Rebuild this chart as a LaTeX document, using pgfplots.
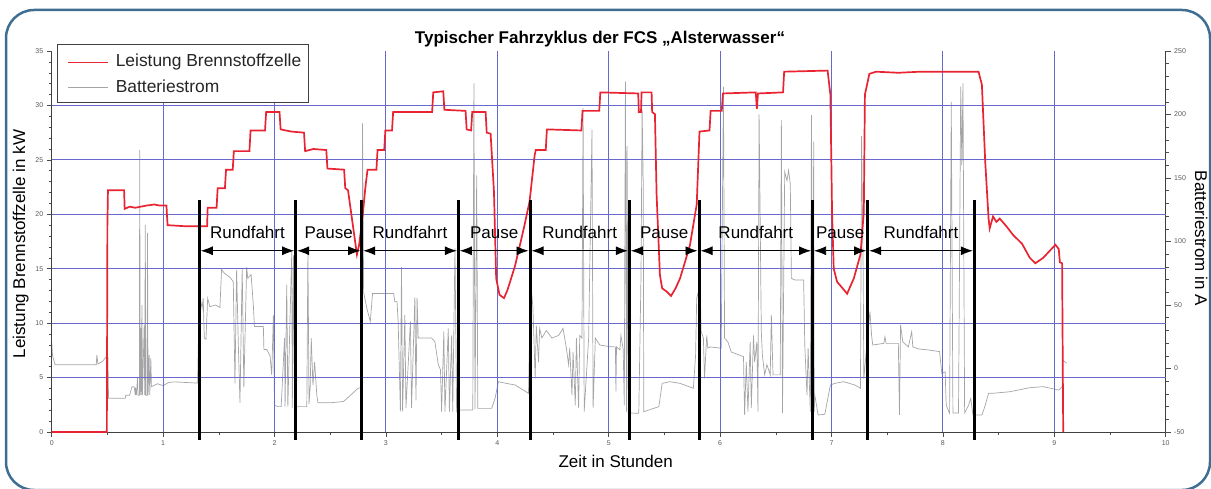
\documentclass[border=0pt]{standalone}
\usepackage{pgfplots}
\pgfplotsset{compat=1.18}
\usepackage{fontspec}
\setmainfont{Liberation Sans}
\usetikzlibrary{arrows.meta}

\definecolor{framec}{RGB}{62,110,145}
\definecolor{gridc}{RGB}{105,105,205}
\definecolor{redc}{RGB}{232,35,50}
\definecolor{grayc}{RGB}{165,165,168}
\definecolor{tickc}{RGB}{90,90,90}

\pgfplotsset{
  base/.style={
    at={(51.7pt,56pt)}, anchor=south west, scale only axis,
    width=1114pt, height=381pt, xmin=0, xmax=10,
    tick align=outside, major tick length=5pt, minor tick length=3pt,
    tick style={color=black!70, line width=0.5pt},
    axis line style={color=black!75, line width=0.6pt},
    ticklabel style={font=\fontsize{7}{8}\selectfont, color=tickc},
    /pgf/number format/assume math mode=true,
  }
}

\begin{document}
\begin{tikzpicture}[x=1pt,y=1pt]
\draw[line width=2.5pt, color=framec, rounded corners=28pt] (6,-2) rectangle (1210,478);

% right axis: battery current
\begin{axis}[base, ymin=-50, ymax=250, axis x line=none, axis y line*=right,
  ytick={-50,0,...,250}, minor ytick={-50,-40,...,250}]
\addplot[grayc, line width=0.7pt] table {
x y
0.000 21
0.008 10
0.030 3
0.400 3
0.405 10.6
0.415 3.5
0.460 6
0.490 9.3
0.505 9
0.510 -23.5
0.660 -23.5
0.665 -21
0.700 -21
0.720 -14.3
0.740 -14.3
0.750 -21
0.752 -15
0.760 -21
0.770 -7.5
0.775 -21
0.787 -21
0.790 172
0.795 -21
0.800 32
0.805 -21
0.810 50
0.815 -21
0.830 34
0.835 -21
0.840 113
0.845 -21
0.857 -21
0.860 106.7
0.865 -21
0.875 10.5
0.880 -21
0.890 8
0.895 -14.3
0.950 -12
1.000 -13.5
1.050 -11
1.100 -10.5
1.200 -11
1.310 -11.5
1.325 60
1.350 47.4
1.360 55.3
1.370 23.9
1.385 23
1.400 55.3
1.420 48.7
1.470 50
1.510 48
1.525 78
1.550 75
1.600 71.8
1.630 68.4
1.645 -11.7
1.660 77.6
1.675 20
1.690 -27
1.710 79
1.725 -15
1.750 80
1.760 71
1.790 74
1.810 50
1.820 33
1.900 33
1.905 15
1.930 15
1.960 10
1.975 -5
1.990 42
2.000 -29
2.030 -30
2.060 -30
2.090 24
2.095 -30
2.110 66
2.120 -30
2.140 42
2.155 92
2.160 -31
2.170 89
2.180 -31
2.210 -30
2.290 -30
2.300 92
2.310 -28
2.320 -15
2.330 24
2.345 -13
2.360 5
2.380 -21
2.390 -27
2.500 -27
2.620 -26
2.750 -15.6
2.785 -15
2.790 193
2.800 60
2.830 47
2.860 37
2.880 59
3.070 59
3.080 52.6
3.100 52.6
3.110 37
3.130 -34
3.140 80
3.150 -34
3.170 42
3.180 -31
3.220 37
3.230 -31
3.260 56
3.270 -25
3.280 55.5
3.290 24
3.410 24
3.440 21
3.470 3
3.490 -1
3.500 -34
3.520 29
3.530 -34
3.560 31.6
3.570 -34
3.590 26
3.600 -34
3.620 94.6
3.635 -34
3.650 -32.7
3.780 -32.7
3.790 224.6
3.800 -32
3.815 152
3.825 -31.4
3.950 -31.4
3.980 -23.5
4.010 -10.4
4.080 -11.7
4.160 -13
4.280 -19.5
4.300 68
4.320 47.6
4.340 -7.7
4.350 34
4.370 5
4.380 31.6
4.400 24
4.440 30
4.490 24
4.550 26
4.590 31.6
4.620 16
4.640 3
4.650 16
4.670 -21
4.680 13
4.700 -29
4.710 24
4.730 -31
4.740 26
4.760 24
4.770 205
4.780 -34
4.820 24
4.850 187.8
4.860 -31
4.880 24
4.920 18.5
5.010 17.2
5.060 17
5.065 -18
5.070 17
5.100 14.6
5.110 26
5.130 15
5.140 -29
5.150 225.8
5.160 -34
5.165 175
5.175 -35
5.270 -35.3
5.290 73.6
5.300 204
5.310 144.5
5.315 -34
5.360 -32.7
5.450 -30
5.480 -11.7
5.550 -10.4
5.640 -11.7
5.760 -15.6
5.780 10.6
5.790 55.3
5.820 65.7
5.830 29
5.850 24
5.860 -7.7
5.880 26
5.890 16
5.910 17
6.010 16
6.030 222
6.040 24
6.070 21
6.100 13
6.210 9.3
6.220 -36.6
6.235 5
6.250 -34
6.270 21
6.280 -31
6.300 26
6.310 5
6.330 21
6.340 -34
6.350 200
6.370 29
6.380 10
6.400 -5
6.420 3
6.450 -5
6.460 42
6.475 -5
6.540 -5
6.550 195.7
6.560 -35
6.580 155
6.600 148
6.615 156
6.630 145
6.640 71
6.670 69.7
6.750 69.7
6.760 18.5
6.780 -21
6.790 16
6.810 -34
6.820 199.6
6.832 -34
6.840 178.6
6.845 -34
6.850 -21
6.880 -36.6
6.940 -36
6.990 -13
7.030 -11.7
7.110 -10.4
7.210 -13
7.260 -15.6
7.270 183
7.285 71
7.290 -8
7.345 44.7
7.360 26
7.370 18.5
7.470 19.8
7.480 25
7.490 19.8
7.600 19.8
7.610 -36.6
7.620 34.3
7.640 21
7.690 17
7.720 29
7.730 17
7.780 15.4
7.870 14.6
7.970 13.3
7.990 -3.8
8.020 -2.6
8.030 -29
8.060 -35.3
8.075 210
8.090 -35
8.140 -35
8.160 222
8.170 160
8.180 224.6
8.195 -35
8.230 -29
8.250 -23.5
8.270 -36.6
8.350 -36.6
8.380 -29
8.410 -19.5
8.450 -19.5
8.600 -18.3
8.780 -15.1
8.900 -14.3
9.040 -17
9.070 -14.3
9.075 6.7
9.110 4.1
};
\end{axis}

% left axis: fuel cell power
\begin{axis}[base, ymin=0, ymax=35, axis x line*=bottom, axis y line*=left, clip=false,
  xtick={1,...,9}, extra x ticks={0,10}, minor xtick={0,0.5,...,10},
  ytick={5,10,...,30}, extra y ticks={0,35}, minor ytick={0,1,...,35},
  extra tick style={grid=none},
  xmajorgrids, ymajorgrids, major grid style={color=gridc, line width=0.85pt}]
\addplot[redc, line width=1.7pt] table {
x y
0 0
0.495 0
0.50 19
0.505 22.2
0.65 22.2
0.655 20.5
0.70 20.7
0.75 20.6
0.80 20.7
0.85 20.8
0.92 20.9
0.97 20.8
1.03 20.8
1.04 19.0
1.20 18.9
1.395 18.9
1.40 20.6
1.48 20.6
1.49 22.4
1.555 22.4
1.565 24.1
1.625 24.1
1.635 25.8
1.775 25.8
1.785 27.7
1.915 27.7
1.925 29.4
2.045 29.4
2.055 27.8
2.15 27.6
2.265 27.5
2.275 25.8
2.35 26.0
2.465 25.9
2.475 24.2
2.625 24.1
2.635 22.4
2.66 22.2
2.74 16.3
2.76 17.2
2.79 19.7
2.815 22.4
2.835 24.1
2.915 24.1
2.925 25.9
2.985 25.9
2.995 27.7
3.055 27.7
3.065 29.4
3.415 29.4
3.425 31.2
3.515 31.3
3.525 29.6
3.715 29.5
3.725 27.8
3.765 27.7
3.775 29.4
3.895 29.4
3.905 27.5
3.94 27.4
3.97 22.1
3.99 14.1
4.02 12.6
4.06 12.3
4.09 13.0
4.13 14.3
4.16 15.3
4.19 16.6
4.24 18.8
4.29 21.2
4.335 25.4
4.345 25.9
4.435 25.9
4.445 27.8
4.755 27.7
4.765 29.5
4.915 29.5
4.925 31.2
5.265 31.1
5.27 29.4
5.29 29.4
5.295 31.2
5.385 31.2
5.39 29.4
5.415 29.2
5.43 21.8
5.46 14.4
5.48 13.2
5.52 12.9
5.56 12.5
5.60 13.2
5.64 14.1
5.69 15.8
5.73 17.2
5.79 20.9
5.815 27.6
5.905 27.7
5.915 29.5
6.015 29.5
6.025 31.1
6.32 31.2
6.33 29.7
6.34 31.1
6.565 31.2
6.575 33.1
6.965 33.2
6.99 31.0
7.005 20.2
7.02 15.0
7.05 13.8
7.10 13.2
7.14 12.7
7.20 14.1
7.26 16.3
7.29 20.2
7.30 31.0
7.34 32.9
7.40 33.1
7.60 33.0
7.80 33.1
8.00 33.1
8.20 33.1
8.32 33.1
8.35 31.9
8.38 24.8
8.41 19.6
8.42 18.7
8.45 19.8
8.48 19.3
8.51 19.6
8.57 18.9
8.63 18.1
8.71 17.3
8.78 16.0
8.83 15.5
8.90 16.0
9.01 17.2
9.04 16.8
9.05 15.6
9.07 15.5
9.08 0
};

% phase markers
\pgfplotsinvokeforeach{1.325,2.19,2.783,3.65,4.294,5.185,5.811,6.83,7.325,8.282}{
  \draw[line width=3pt] (axis cs:#1,-0.75) -- (axis cs:#1,21.3);
}
\tikzset{ph/.style={{Latex[length=12pt,width=9pt]}-{Latex[length=12pt,width=9pt]}, line width=0.8pt, shorten >=1.5pt, shorten <=1.5pt}}
\draw[ph] (axis cs:1.325,16.65) -- (axis cs:2.19,16.65);
\draw[ph] (axis cs:2.19,16.65) -- (axis cs:2.783,16.65);
\draw[ph] (axis cs:2.783,16.65) -- (axis cs:3.65,16.65);
\draw[ph] (axis cs:3.65,16.65) -- (axis cs:4.294,16.65);
\draw[ph] (axis cs:4.294,16.65) -- (axis cs:5.185,16.65);
\draw[ph] (axis cs:5.185,16.65) -- (axis cs:5.811,16.65);
\draw[ph] (axis cs:5.811,16.65) -- (axis cs:6.83,16.65);
\draw[ph] (axis cs:6.83,16.65) -- (axis cs:7.325,16.65);
\draw[ph] (axis cs:7.325,16.65) -- (axis cs:8.282,16.65);
\tikzset{pl/.style={anchor=base, font=\fontsize{17}{20}\selectfont, inner sep=0pt}}
\node[pl] at (axis cs:1.7575,17.79) {Rundfahrt};
\node[pl] at (axis cs:2.4865,17.79) {Pause};
\node[pl] at (axis cs:3.2165,17.79) {Rundfahrt};
\node[pl] at (axis cs:3.972,17.79) {Pause};
\node[pl] at (axis cs:4.7395,17.79) {Rundfahrt};
\node[pl] at (axis cs:5.498,17.79) {Pause};
\node[pl] at (axis cs:6.3205,17.79) {Rundfahrt};
\node[pl] at (axis cs:7.0775,17.79) {Pause};
\node[pl] at (axis cs:7.8035,17.79) {Rundfahrt};
\end{axis}

% legend
\draw[black!75, line width=0.8pt, fill=white] (57,386) rectangle (308,444);
\draw[redc, line width=1.3pt] (68.3,425.7) -- (108.3,425.7);
\draw[grayc, line width=0.8pt] (68.3,400.7) -- (108.3,400.7);
\node[anchor=base west, font=\fontsize{17.4}{20}\selectfont, inner sep=0pt, text=black!85] at (115.6,421.3) {Leistung Brennstoffzelle};
\node[anchor=base west, font=\fontsize{17.4}{20}\selectfont, inner sep=0pt, text=black!85] at (115.6,395.7) {Batteriestrom};

\node[anchor=base, font=\bfseries\fontsize{17}{20}\selectfont, inner sep=0pt] at (600,444) {Typischer Fahrzyklus der FCS „Alsterwasser“};
\node[anchor=base, font=\fontsize{17}{20}\selectfont, inner sep=0pt] at (615.7,20.3) {Zeit in Stunden};
\node[anchor=base, rotate=90, font=\fontsize{17}{20}\selectfont, inner sep=0pt] at (25,244) {Leistung Brennstoffzelle in kW};
\node[anchor=base, rotate=-90, font=\fontsize{17}{20}\selectfont, inner sep=0pt] at (1195,249.5) {Batteriestrom in A};

\pgfresetboundingbox
\useasboundingbox (0,0) rectangle (1211,488);
\end{tikzpicture}
\end{document}
